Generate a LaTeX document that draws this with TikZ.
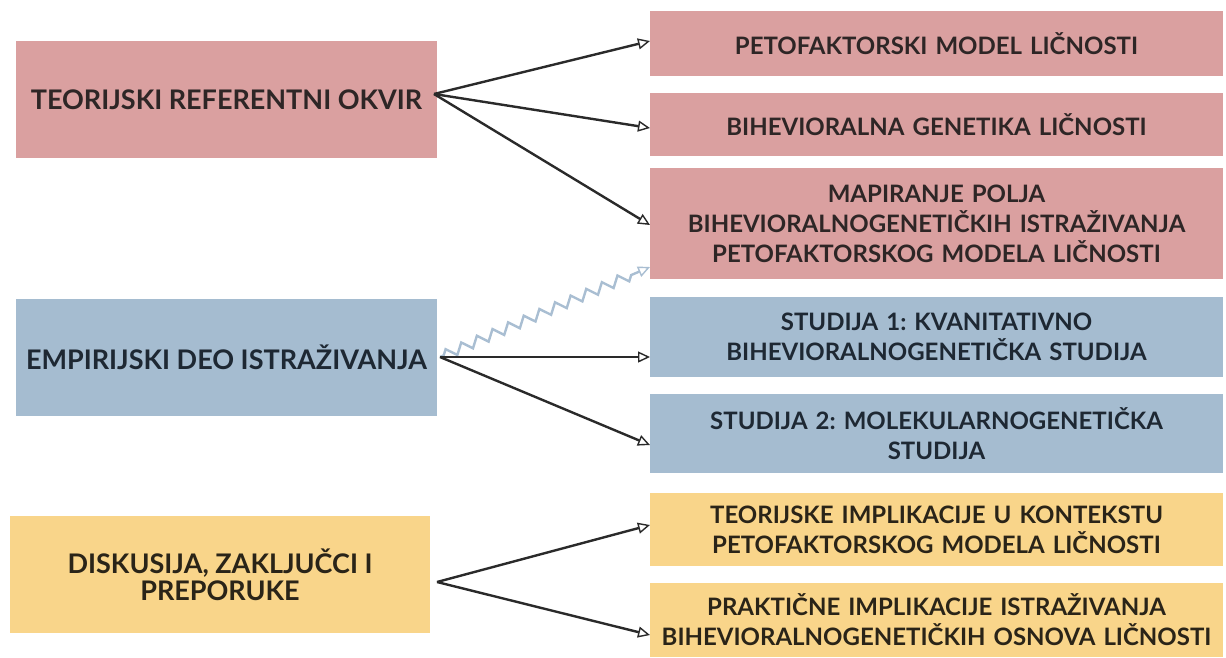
\documentclass[tikz,border=0pt]{standalone}
\usepackage{fontspec}
\setmainfont{Lato}
\frenchspacing
\usetikzlibrary{arrows.meta,decorations.pathmorphing,calc}
\definecolor{pinkbox}{HTML}{DAA0A0}
\definecolor{bluebox}{HTML}{A5BCD0}
\definecolor{yellowbox}{HTML}{F9D58A}
\definecolor{pinktext}{HTML}{2E2626}
\definecolor{bluetext}{HTML}{1E2833}
\definecolor{yellowtext}{HTML}{2A2418}
\definecolor{arrowcol}{HTML}{2A2A2A}
\definecolor{zigcol}{HTML}{A9BED2}
\begin{document}
\begin{tikzpicture}[x=1pt,y=-1pt,
  box/.style={inner sep=0pt, outer sep=0pt, align=center, font=\bfseries},
  lbox/.style={box, minimum width=421pt, minimum height=117pt},
  rbox/.style={box, minimum width=573pt, text width=570pt},
  rfont/.style={font=\bfseries\fontsize{24}{30}\selectfont},
  conn/.style={draw=arrowcol, line width=2.4pt, -{Triangle[length=12pt,width=11pt,fill=white,line width=1.4pt]}},
  zig/.style={draw=zigcol, line width=2.4pt, decorate,
    decoration={zigzag, segment length=17pt, amplitude=5pt, pre length=4pt, post length=12pt},
    -{Triangle[length=12pt,width=11pt,fill=white,line width=1.4pt]}}
]
\useasboundingbox (0,0) rectangle (1226,657);
% left boxes
\node[lbox, fill=pinkbox, text=pinktext, font=\bfseries\fontsize{27}{30}\selectfont] (l1) at (226.5,99.5) {TEORIJSKI REFERENTNI OKVIR};
\node[lbox, fill=bluebox, text=bluetext, font=\bfseries\fontsize{27}{30}\selectfont] (l2) at (226.5,357.5) {EMPIRIJSKI DEO ISTRAŽIVANJA};
\node[lbox, minimum width=420pt, fill=yellowbox, text=yellowtext, font=\bfseries\fontsize{27}{27}\selectfont] (l3) at (220,574.5) {DISKUSIJA, ZAKLJUČCI I\\PREPORUKE};
% right boxes
\node[rbox, rfont, minimum height=65pt, fill=pinkbox, text=pinktext] (r1) at (936.5,43.5) {PETOFAKTORSKI MODEL LIČNOSTI};
\node[rbox, rfont, minimum height=63pt, fill=pinkbox, text=pinktext] (r2) at (936.5,124.5) {BIHEVIORALNA GENETIKA LIČNOSTI};
\node[rbox, rfont, minimum height=111pt, fill=pinkbox, text=pinktext] (r3) at (936.5,223.5) {MAPIRANJE POLJA\\BIHEVIORALNOGENETIČKIH ISTRAŽIVANJA\\PETOFAKTORSKOG MODELA LIČNOSTI};
\node[rbox, rfont, minimum height=80pt, fill=bluebox, text=bluetext] (r4) at (936.5,337) {STUDIJA 1: KVANITATIVNO\\BIHEVIORALNOGENETIČKA STUDIJA};
\node[rbox, rfont, minimum height=79pt, fill=bluebox, text=bluetext] (r5) at (936.5,433.5) {STUDIJA 2: MOLEKULARNOGENETIČKA\\STUDIJA};
\node[rbox, rfont, minimum height=73pt, fill=yellowbox, text=yellowtext] (r6) at (936.5,529.5) {TEORIJSKE IMPLIKACIJE U KONTEKSTU\\PETOFAKTORSKOG MODELA LIČNOSTI};
\node[rbox, rfont, minimum height=74pt, fill=yellowbox, text=yellowtext] (r7) at (936.5,620) {PRAKTIČNE IMPLIKACIJE ISTRAŽIVANJA\\BIHEVIORALNOGENETIČKIH OSNOVA LIČNOSTI};
% start points
\coordinate (s1) at (434,94);
\coordinate (s2) at (440,357);
\coordinate (s3) at (437,582);
% connectors
\draw[conn] (s1) -- ([yshift=2.5pt]r1.west);
\draw[conn] (s1) -- ([yshift=-3.5pt]r2.west);
\draw[conn] (s1) -- ([yshift=-1.5pt]r3.west);
\draw[zig] (s2) -- ([yshift=12pt]r3.south west);
\draw[conn] (s2) -- ([yshift=-20pt]r4.west);
\draw[conn] (s2) -- ([yshift=-11.5pt]r5.west);
\draw[conn] (s3) -- ([yshift=4.5pt]r6.west);
\draw[conn] (s3) -- ([yshift=-15pt]r7.west);
\end{tikzpicture}
\end{document}
